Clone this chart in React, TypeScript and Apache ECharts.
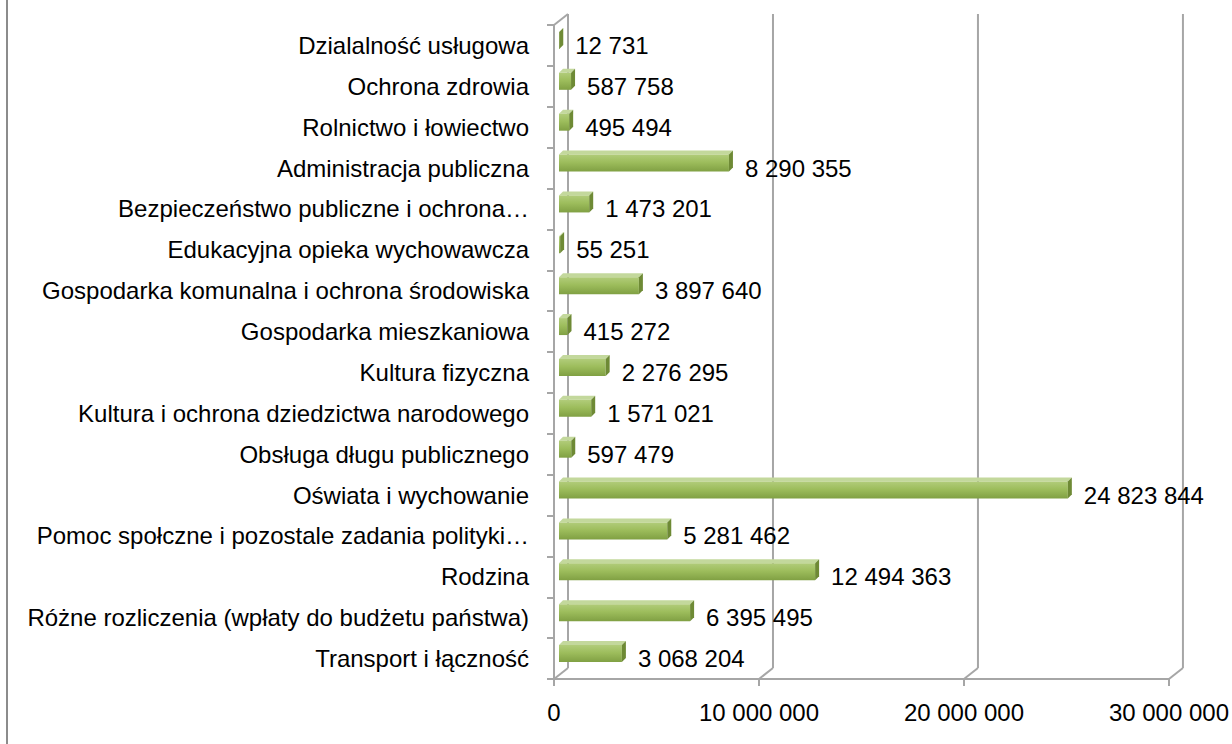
import React, { useEffect, useRef } from "react";
import * as echarts from "echarts";

// Categories listed bottom to top (ECharts category order)
const categories: string[] = [
  "Transport i łączność",
  "Różne rozliczenia (wpłaty do budżetu państwa)",
  "Rodzina",
  "Pomoc społczne i pozostale zadania polityki…",
  "Oświata i wychowanie",
  "Obsługa długu publicznego",
  "Kultura i ochrona dziedzictwa narodowego",
  "Kultura fizyczna",
  "Gospodarka mieszkaniowa",
  "Gospodarka komunalna i ochrona środowiska",
  "Edukacyjna opieka wychowawcza",
  "Bezpieczeństwo publiczne i ochrona…",
  "Administracja publiczna",
  "Rolnictwo i łowiectwo",
  "Ochrona zdrowia",
  "Dzialalność usługowa",
];

const values: number[] = [
  3068204, 6395495, 12494363, 5281462, 24823844, 597479, 1571021, 2276295,
  415272, 3897640, 55251, 1473201, 8290355, 495494, 587758, 12731,
];

const axisMin = 0;
const axisMax = 30000000;
const axisInterval = 10000000;
const gridTicks: number[] = [0, 10000000, 20000000, 30000000];

const fmt = (n: number) =>
  String(Math.round(n)).replace(/\B(?=(\d{3})+(?!\d))/g, " ");

const FONT = "Liberation Sans, Arial, sans-serif";

export default function App() {
  const ref = useRef<HTMLDivElement>(null);

  useEffect(() => {
    document.body.style.margin = "0";
    if (!ref.current) return;
    const chart = echarts.init(ref.current, undefined, { renderer: "svg" });

    const depthX = 14;
    const depthY = 11;
    const barDx = 5;
    const barDy = -5;
    const barH = 17;
    const sideX = 4;
    const sideY = 4;

    const option: any = {
      animation: false,
      backgroundColor: "#ffffff",
      grid: { left: 554, right: 63, top: 25, bottom: 65, containLabel: false },
      xAxis: {
        type: "value",
        min: axisMin,
        max: axisMax,
        interval: axisInterval,
        splitLine: { show: false },
        axisLine: { show: true, lineStyle: { color: "#a6a6a6", width: 2 } },
        axisTick: { show: true, length: 7, lineStyle: { color: "#a6a6a6", width: 2 } },
        axisLabel: {
          formatter: (v: number) => fmt(v),
          fontSize: 24,
          fontFamily: FONT,
          color: "#000",
          margin: 21,
        },
      },
      yAxis: {
        type: "category",
        data: categories,
        axisLine: { show: true, lineStyle: { color: "#a6a6a6", width: 2 } },
        axisTick: { show: true, length: 7, lineStyle: { color: "#a6a6a6", width: 2 } },
        axisLabel: {
          fontSize: 24,
          fontFamily: FONT,
          color: "#000",
          margin: 25,
        },
      },
      graphic: [
        {
          type: "line",
          shape: { x1: 7, y1: 0, x2: 7, y2: 744 },
          style: { stroke: "#8c8c8c", lineWidth: 2 },
        },
      ],
      series: [
        {
          type: "custom",
          name: "frame",
          z: 1,
          silent: true,
          data: gridTicks.map((t) => [t, 0]),
          encode: { x: 0, y: 1 },
          renderItem: (params: any, api: any) => {
            const cs = params.coordSys;
            const top = cs.y;
            const bottom = cs.y + cs.height;
            const fx = api.coord([api.value(0), 0])[0];
            const style = { stroke: "#a6a6a6", lineWidth: 2 };
            const children: any[] = [
              {
                type: "line",
                shape: { x1: fx + depthX, y1: top - depthY, x2: fx + depthX, y2: bottom - depthY },
                style,
              },
              {
                type: "line",
                shape: { x1: fx + depthX, y1: bottom - depthY, x2: fx, y2: bottom },
                style,
              },
            ];
            if (api.value(0) === 0) {
              children.push({
                type: "line",
                shape: { x1: fx, y1: top, x2: fx + depthX, y2: top - depthY },
                style,
              });
            }
            return { type: "group", children };
          },
        },
        {
          type: "custom",
          name: "values",
          z: 3,
          data: values.map((v, i) => [v, i]),
          encode: { x: 0, y: 1 },
          renderItem: (params: any, api: any) => {
            const idx = api.value(1);
            const start = api.coord([0, idx]);
            const end = api.coord([api.value(0), idx]);
            const x0 = start[0] + barDx;
            const x1 = end[0] + barDx;
            const yc = start[1] + barDy;
            const yT = yc - barH / 2;
            const yB = yc + barH / 2;
            return {
              type: "group",
              children: [
                {
                  type: "polygon",
                  shape: {
                    points: [
                      [x0, yT],
                      [x0 + sideX, yT - sideY],
                      [x1 + sideX, yT - sideY],
                      [x1, yT],
                    ],
                  },
                  style: { fill: "#c3d89c" },
                },
                {
                  type: "rect",
                  shape: { x: x0, y: yT, width: Math.max(0.5, x1 - x0), height: barH },
                  style: {
                    fill: new echarts.graphic.LinearGradient(0, 0, 0, 1, [
                      { offset: 0, color: "#b1cc7a" },
                      { offset: 0.45, color: "#9dbd5c" },
                      { offset: 1, color: "#80a043" },
                    ]),
                  },
                },
                {
                  type: "polygon",
                  shape: {
                    points: [
                      [x1, yT],
                      [x1 + sideX, yT - sideY],
                      [x1 + sideX, yB - sideY],
                      [x1, yB],
                    ],
                  },
                  style: { fill: "#6e8a35" },
                },
                {
                  type: "text",
                  x: end[0] + 21,
                  y: start[1],
                  style: {
                    text: fmt(api.value(0)),
                    fontSize: 24,
                    fontFamily: FONT,
                    fill: "#000",
                    verticalAlign: "middle",
                    align: "left",
                  },
                },
              ],
            };
          },
        },
      ],
    };

    chart.setOption(option);
    return () => chart.dispose();
  }, []);

  return <div ref={ref} style={{ width: 1232, height: 744 }} />;
}
